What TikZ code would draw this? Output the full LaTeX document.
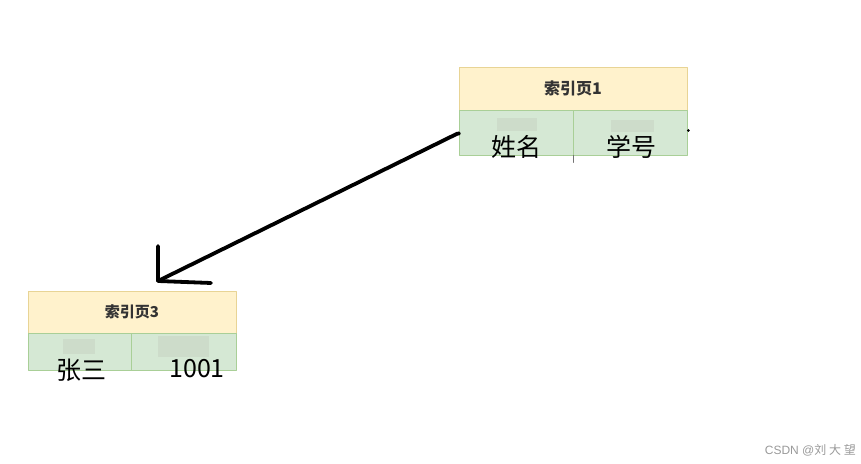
\documentclass[tikz,border=0pt]{standalone}
\usepackage{fontspec}
\setmainfont{Noto Sans CJK SC}
\newfontfamily\wmfont{Liberation Sans}

\definecolor{hdrfill}{HTML}{FFF2CC}
\definecolor{hdrline}{HTML}{E8D495}
\definecolor{cellfill}{HTML}{D5E8D4}
\definecolor{cellline}{HTML}{A9CF97}
\definecolor{blurgray}{HTML}{C4CFBF}

\tikzset{
  hdr/.style={draw=hdrline,fill=hdrfill,line width=.8bp,inner sep=0pt,text=black!80},
  cellbox/.style={draw=cellline,fill=cellfill,line width=.8bp,inner sep=0pt},
  blurpatch/.style={fill=blurgray,draw=none,inner sep=0pt,opacity=.45},
  celltext/.style={inner sep=0pt,font=\fontsize{25bp}{27bp}\selectfont}
}

\begin{document}
\begin{tikzpicture}[x=1bp,y=-1bp,line cap=round,line join=round]
  \useasboundingbox (0,0) rectangle (861,464);

  % index page 1
  \node[hdr,minimum width=228bp,minimum height=43bp,
    font=\fontsize{16bp}{18bp}\selectfont\bfseries] (pgA) at (573,88.5) {索引页1};
  \node[cellbox,minimum width=114bp,minimum height=45bp] (pgAl) at (516,132.5) {};
  \node[cellbox,minimum width=114bp,minimum height=45bp] (pgAr) at (630,132.5) {};
  \node[blurpatch,minimum width=40bp,minimum height=13bp] (blA1) at (517,125) {};
  \node[blurpatch,minimum width=43bp,minimum height=12bp] (blA2) at (632,126) {};
  \node[celltext] (nameA) at (516,147) {姓名};
  \node[celltext] (numA) at (631,147) {学号};
  \draw[black!55,line width=.8bp] (pgAl.south east) -- ++(0,7);
  \fill (pgAl.west) ++(0,1) circle (2bp);
  \fill (pgAr.east) ++(1,-2) circle (1.5bp);

  % index page 3
  \node[hdr,minimum width=208bp,minimum height=42bp,
    font=\fontsize{15bp}{17bp}\selectfont\bfseries] (pgC) at (132,312) {索引页3};
  \node[cellbox,minimum width=103bp,minimum height=37bp] (pgCl) at (79.5,351.5) {};
  \node[cellbox,minimum width=105bp,minimum height=37bp] (pgCr) at (183.5,351.5) {};
  \node[blurpatch,minimum width=32bp,minimum height=15bp] (blC1) at (79,347) {};
  \node[blurpatch,minimum width=51bp,minimum height=21bp] (blC2) at (183,347) {};
  \node[celltext] (nameC) at (81,370) {张三};
  \node[celltext] (numC) at (197,369) {1001};

  % hand drawn pointer
  \coordinate (tip) at (158,281);
  \coordinate (tipup) at (158,246);
  \coordinate (tipright) at (211,283);
  \draw[line width=3.8bp] (pgAl.west) ++(-1,1) coordinate (tail) -- (tip);
  \draw[line width=3.8bp] (tipup) -- (tip) -- (tipright);

  \node[text=black!40,font=\wmfont\fontsize{12bp}{14bp}\selectfont,anchor=east,inner sep=0pt]
    (mark) at (856,450) {CSDN @{\fontspec{Noto Sans CJK SC}刘 大 望}};
\end{tikzpicture}
\end{document}
